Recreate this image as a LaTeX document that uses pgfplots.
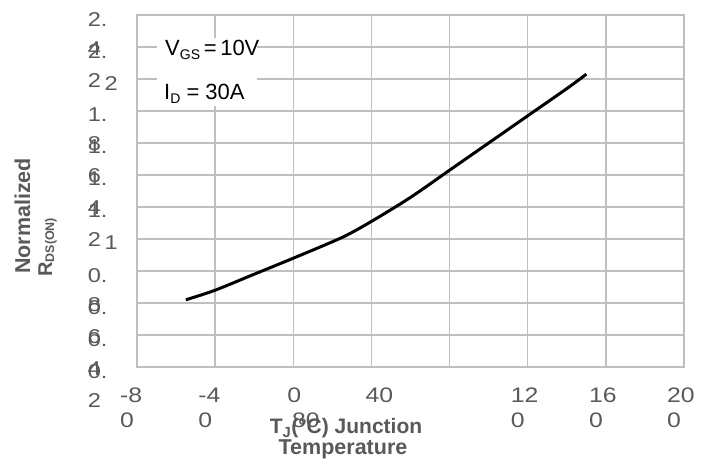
\documentclass[border=0pt]{standalone}
\usepackage{pgfplots}
\pgfplotsset{compat=1.18}
\usepackage{fontspec}
\setmainfont{Liberation Sans}
\newfontfamily\tickfont[FakeStretch=1.18]{Liberation Sans}
\definecolor{gridc}{HTML}{BFBFBF}
\definecolor{labc}{HTML}{595959}
\newcommand{\xtwo}[2]{\parbox[t]{40pt}{\raggedright #1\\#2}}
\newcommand{\xone}[1]{\parbox[t]{40pt}{\raggedright\hspace*{11pt}#1}}
\newcommand{\ytwo}[2]{\parbox[t]{30pt}{\raggedright #1\\#2}}
\newcommand{\yone}[1]{\parbox[t]{30pt}{\raggedleft #1}}
\begin{document}
\begin{tikzpicture}[x=1pt,y=1pt]
\path[use as bounding box] (0,0) rectangle (708,470);
\begin{axis}[
  at={(137pt,103pt)}, anchor=south west,
  scale only axis, width=547pt, height=352pt,
  xmin=-80, xmax=200, ymin=0.2, ymax=2.4,
  xtick={-80,-40,0,40,80,120,160,200},
  ytick={0.2,0.4,0.6,0.8,1,1.2,1.4,1.6,1.8,2,2.2,2.4},
  xticklabels={{\xtwo{-8}{0}},{\xtwo{-4}{0}},{\xone{0}},{\xone{40}},{},{\xtwo{12}{0}},{\xtwo{16}{0}},{\xtwo{20}{0}}},
  yticklabels={{\ytwo{0.}{2}},{\ytwo{0.}{4}},{\ytwo{0.}{6}},{\ytwo{0.}{8}},{\yone{1}},{\ytwo{1.}{2}},{\ytwo{1.}{4}},{\ytwo{1.}{6}},{\ytwo{1.}{8}},{\yone{2}},{\ytwo{2.}{2}},{\ytwo{2.}{4}}},
  grid=major, major grid style={gridc, line width=1.3pt},
  axis line style={gridc, line width=1.3pt},
  major tick length=0pt,
  tick label style={labc, inner sep=0pt},
  xticklabel style={font=\tickfont\fontsize{21}{25}\selectfont, anchor=north west, xshift=-17pt, yshift=-21pt},
  yticklabel style={font=\tickfont\fontsize{20}{29}\selectfont, anchor=north east, xshift=-19pt, yshift=3pt},
]
\addplot[black, line width=3pt, smooth] coordinates {
(-55,0.62) (-40,0.68) (-20,0.78) (0,0.88) (25,1.01) (40,1.11) (60,1.26) (80,1.43) (100,1.60) (120,1.77) (140,1.94) (150,2.03)
};
\end{axis}
\node[anchor=base west, inner sep=0pt, labc, font=\tickfont\fontsize{21}{25}\selectfont] at (292,42) {80};
\node[anchor=base, inner sep=0pt, labc, font=\bfseries\fontsize{21}{24}\selectfont] at (346,36) {T\textsubscript{J}(°C) Junction};
\node[anchor=base, inner sep=0pt, labc, font=\bfseries\fontsize{21.5}{24}\selectfont] at (343,15) {Temperature};
\node[anchor=base west, rotate=90, inner sep=0pt, labc, font=\bfseries\fontsize{21.5}{24}\selectfont] at (30,196) {Normalized};
\node[anchor=base west, rotate=90, inner sep=0pt, labc, font=\bfseries\fontsize{20}{24}\selectfont] at (52,193) {R{\fontsize{12.5}{14}\selectfont\raisebox{-2pt}{DS(ON)}}};
\fill[white] (157,364) rectangle (257,432);
\node[anchor=base west, inner sep=0pt, font=\fontsize{22}{26}\selectfont] at (165,414) {V{\fontsize{14}{16}\selectfont\raisebox{-4pt}{GS}}\,=\,10V};
\node[anchor=base west, inner sep=0pt, font=\fontsize{22}{26}\selectfont] at (164,370) {I{\fontsize{14}{16}\selectfont\raisebox{-4pt}{D}} = 30A};
\end{tikzpicture}
\end{document}
